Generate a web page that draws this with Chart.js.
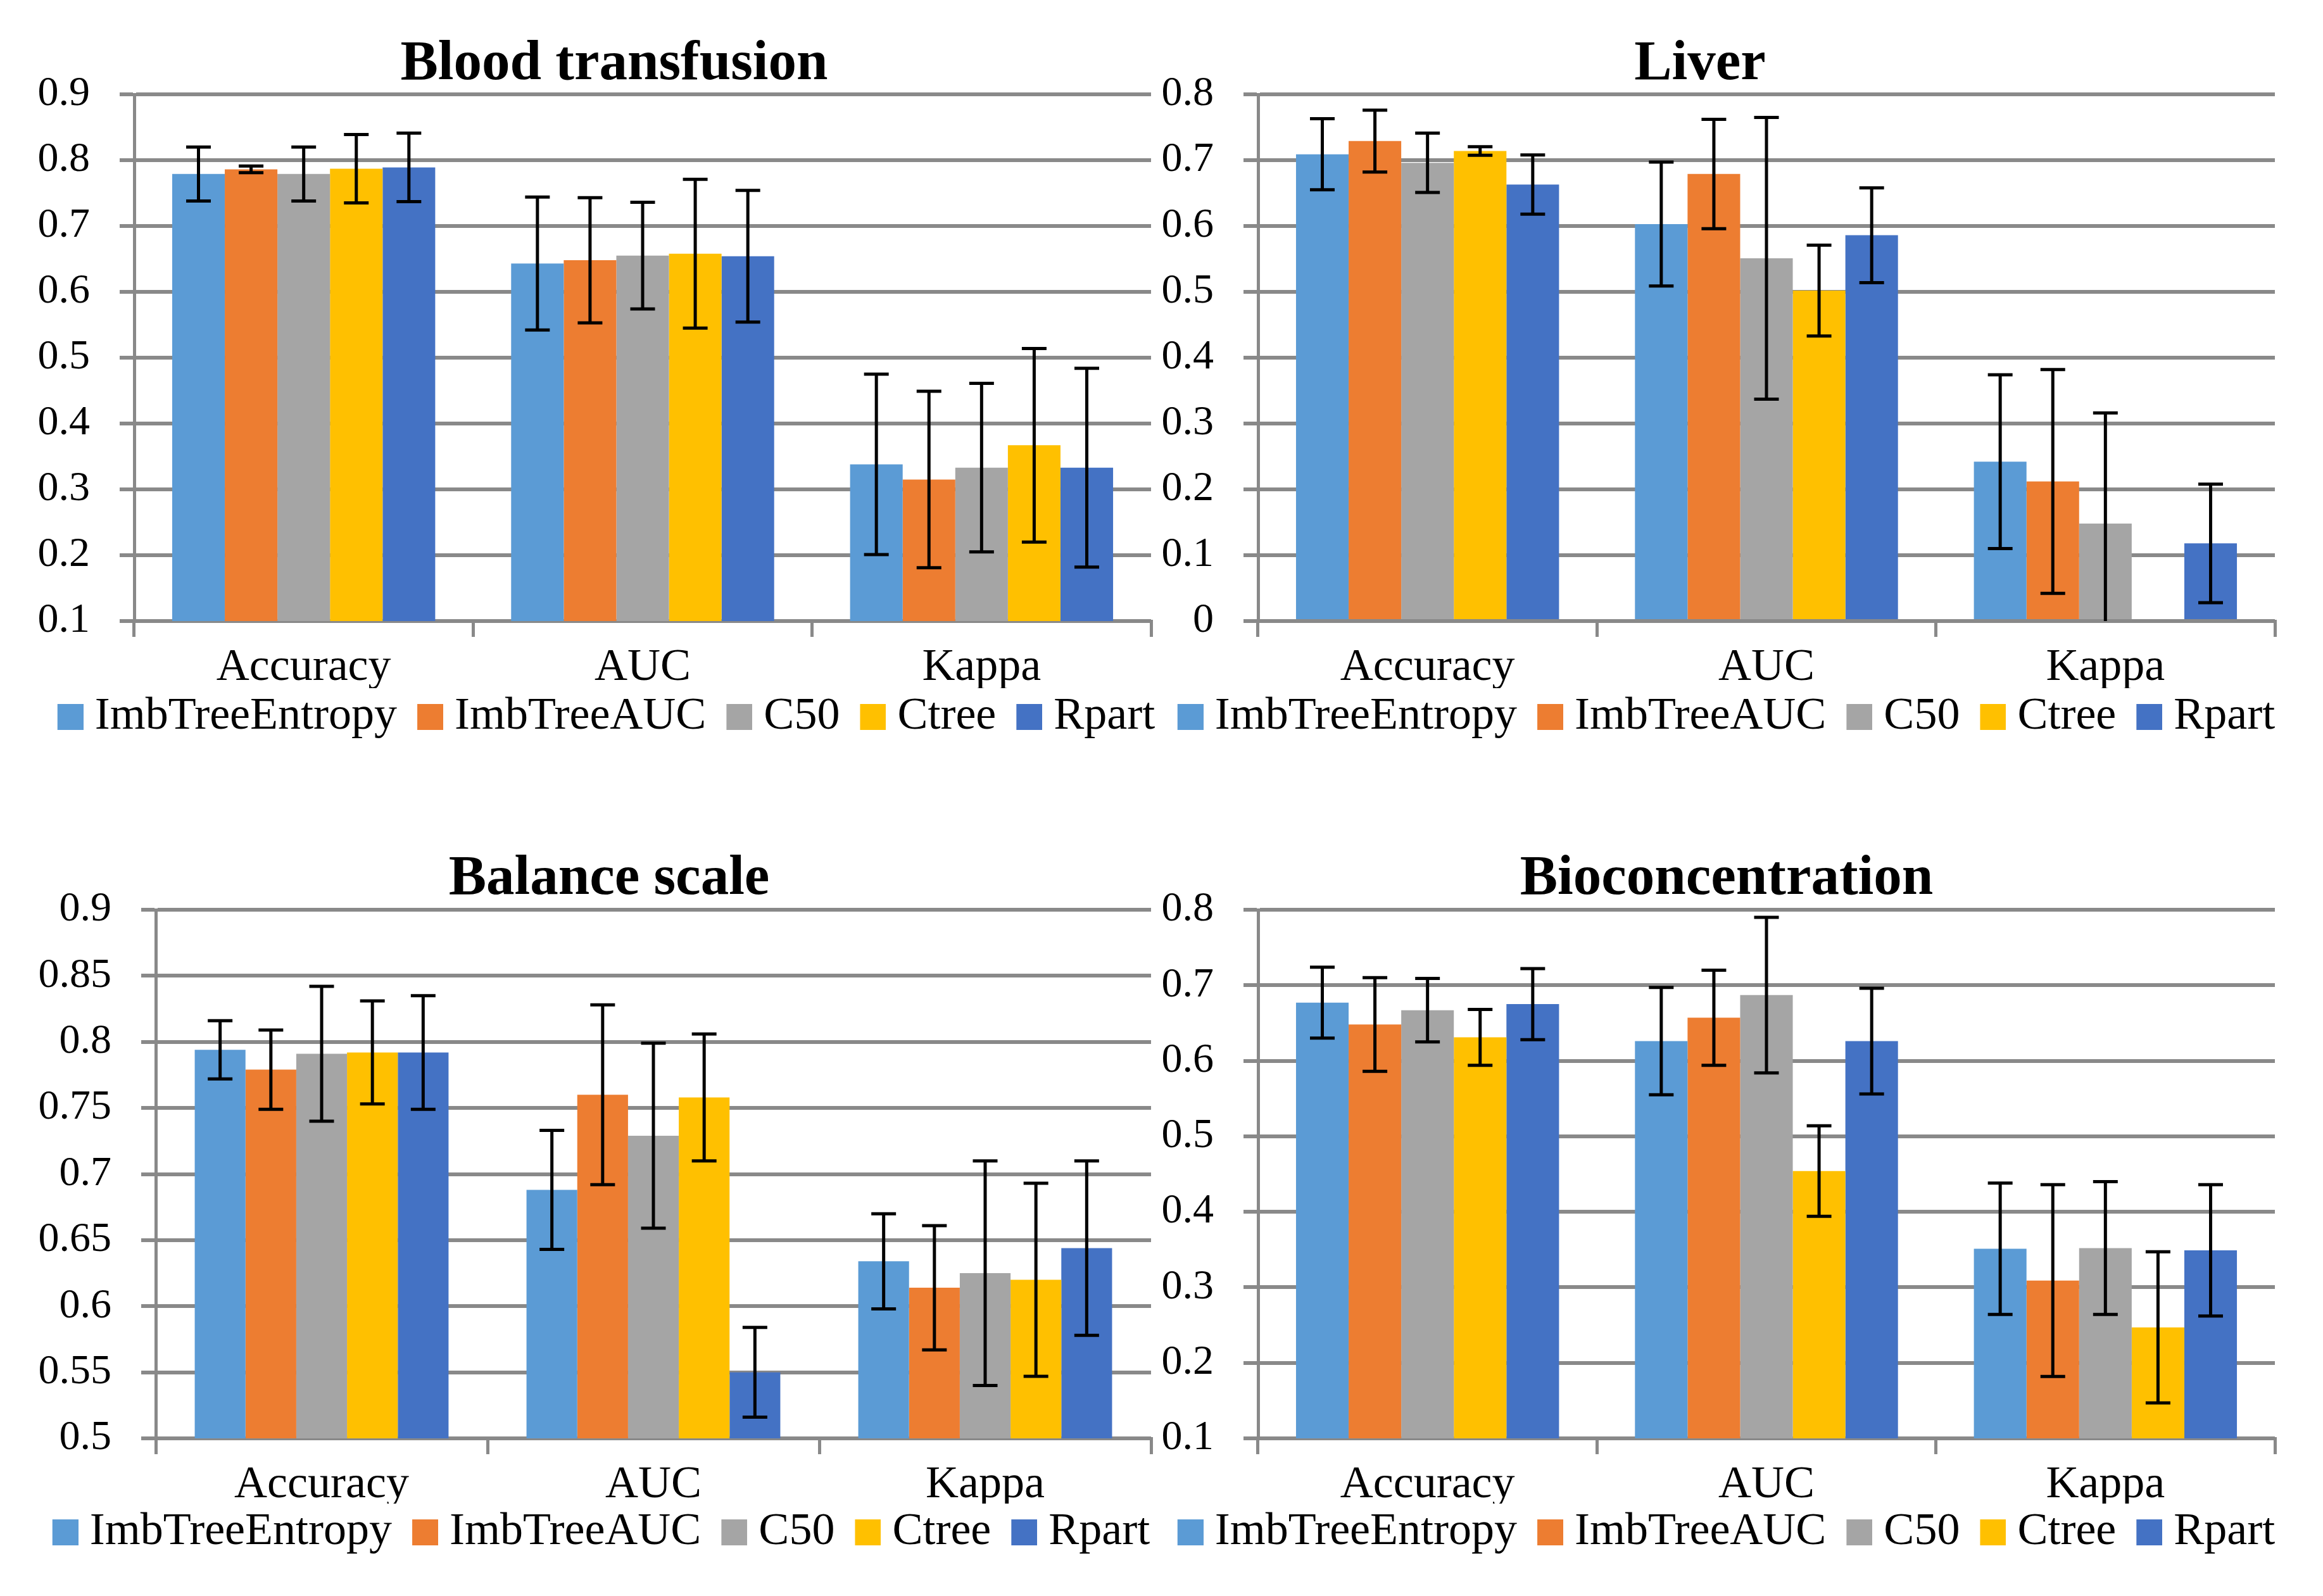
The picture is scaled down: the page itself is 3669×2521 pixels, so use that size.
<!DOCTYPE html>
<html>
<head>
<meta charset="utf-8">
<script src="https://cdn.jsdelivr.net/npm/chart.js@4.4.1/dist/chart.umd.min.js"></script>
<style>
html,body{margin:0;padding:0;background:#fff;width:3669px;height:2521px;overflow:hidden}
canvas{position:absolute;display:block}
</style>
</head>
<body>
<canvas id="c1"></canvas>
<canvas id="c2"></canvas>
<canvas id="c3"></canvas>
<canvas id="c4"></canvas>
<script>
// ---------- data ----------
const categories = ['Accuracy', 'AUC', 'Kappa'];
const seriesNames = ['ImbTreeEntropy', 'ImbTreeAUC', 'C50', 'Ctree', 'Rpart'];
const seriesColors = ['#5B9BD5', '#ED7D31', '#A5A5A5', '#FFC000', '#4472C4'];

// rows = series (ImbTreeEntropy, ImbTreeAUC, C50, Ctree, Rpart); columns = categories
const bloodMeans = [
  [0.779, 0.643, 0.338],
  [0.786, 0.648, 0.315],
  [0.779, 0.655, 0.333],
  [0.787, 0.658, 0.367],
  [0.789, 0.654, 0.333]
];
const bloodErrors = [
  [0.041, 0.101, 0.137],
  [0.005, 0.095, 0.134],
  [0.041, 0.081, 0.128],
  [0.052, 0.113, 0.147],
  [0.052, 0.100, 0.151]
];

const liverMeans = [
  [0.709, 0.603, 0.242],
  [0.729, 0.679, 0.212],
  [0.696, 0.551, 0.148],
  [0.714, 0.502, 0.000],
  [0.663, 0.586, 0.118]
];
const liverErrors = [
  [0.054, 0.094, 0.132],
  [0.047, 0.083, 0.170],
  [0.045, 0.214, 0.168],
  [0.0065, 0.069, null],
  [0.045, 0.072, 0.090]
];

const balanceMeans = [
  [0.794, 0.688, 0.634],
  [0.779, 0.760, 0.614],
  [0.791, 0.729, 0.625],
  [0.792, 0.758, 0.620],
  [0.792, 0.550, 0.644]
];
const balanceErrors = [
  [0.022, 0.045, 0.036],
  [0.030, 0.068, 0.047],
  [0.051, 0.070, 0.085],
  [0.039, 0.048, 0.073],
  [0.043, 0.034, 0.066]
];

const bioMeans = [
  [0.677, 0.626, 0.351],
  [0.648, 0.657, 0.309],
  [0.667, 0.687, 0.352],
  [0.631, 0.454, 0.247],
  [0.675, 0.626, 0.349]
];
const bioErrors = [
  [0.047, 0.071, 0.087],
  [0.062, 0.063, 0.127],
  [0.042, 0.103, 0.088],
  [0.037, 0.060, 0.100],
  [0.047, 0.070, 0.087]
];

const bloodTicks = [0.1, 0.2, 0.3, 0.4, 0.5, 0.6, 0.7, 0.8, 0.9];
const bloodTickLabels = ['0.1', '0.2', '0.3', '0.4', '0.5', '0.6', '0.7', '0.8', '0.9'];
const liverTicks = [0, 0.1, 0.2, 0.3, 0.4, 0.5, 0.6, 0.7, 0.8];
const liverTickLabels = ['0', '0.1', '0.2', '0.3', '0.4', '0.5', '0.6', '0.7', '0.8'];
const balanceTicks = [0.5, 0.55, 0.6, 0.65, 0.7, 0.75, 0.8, 0.85, 0.9];
const balanceTickLabels = ['0.5', '0.55', '0.6', '0.65', '0.7', '0.75', '0.8', '0.85', '0.9'];
const bioTicks = [0.1, 0.2, 0.3, 0.4, 0.5, 0.6, 0.7, 0.8];
const bioTickLabels = ['0.1', '0.2', '0.3', '0.4', '0.5', '0.6', '0.7', '0.8'];

const panelTitles = ['Blood transfusion', 'Liver', 'Balance scale', 'Bioconcentration'];

// ---------- style ----------
const GRID = '#898989';
const FONT = "'Liberation Serif'";
Chart.defaults.font.family = FONT;
Chart.defaults.color = '#000';

// legend swatch image (82x41): a 41x41 square on its right half.
// Drawn centred on the 46px symbol slot, so the square ends 18px before the label
// and a 23px blank leads each item.
function makeSwatch(color) {
  const c = document.createElement('canvas');
  c.width = 82; c.height = 41;
  const g = c.getContext('2d');
  g.fillStyle = color;
  g.fillRect(41, 0, 41, 41);
  return c;
}
const swatches = seriesColors.map(makeSwatch);

const errorBarPlugin = {
  id: 'errorBars',
  afterDatasetsDraw(chart) {
    const ctx = chart.ctx;
    const area = chart.chartArea;
    const yScale = chart.scales.y;
    ctx.save();
    ctx.beginPath();
    ctx.rect(area.left, area.top - 40, area.right - area.left, area.bottom - area.top + 40);
    ctx.clip();
    ctx.strokeStyle = '#000';
    ctx.lineWidth = 5;
    ctx.lineCap = 'butt';
    const half = 19.5;
    chart.data.datasets.forEach((ds, i) => {
      const meta = chart.getDatasetMeta(i);
      meta.data.forEach((el, j) => {
        const v = ds.data[j];
        const e = ds.errors ? ds.errors[j] : null;
        if (v == null || e == null) return;
        const x = el.x;
        const yT = yScale.getPixelForValue(v + e);
        const yB = yScale.getPixelForValue(v - e);
        ctx.beginPath();
        ctx.moveTo(x, yT); ctx.lineTo(x, yB);
        ctx.moveTo(x - half, yT); ctx.lineTo(x + half, yT);
        ctx.moveTo(x - half, yB); ctx.lineTo(x + half, yB);
        ctx.stroke();
      });
    });
    ctx.restore();
  }
};

const titlePlugin = {
  id: 'panelTitle',
  afterDraw(chart, args, opts) {
    const ctx = chart.ctx;
    ctx.save();
    ctx.font = "bold 89px " + FONT;
    ctx.fillStyle = '#000';
    ctx.textAlign = 'center';
    ctx.textBaseline = 'alphabetic';
    ctx.fillText(opts.text, opts.x, opts.y);
    ctx.restore();
  }
};

function makeChart(id, title, means, errors, ticks, tickLabels, L) {
  const cv = document.getElementById(id);
  cv.width = L.width; cv.height = L.height;
  cv.style.left = L.left + 'px'; cv.style.top = L.top + 'px';
  cv.style.width = L.width + 'px'; cv.style.height = L.height + 'px';
  const datasets = seriesNames.map((name, i) => ({
    label: name,
    data: means[i],
    errors: errors[i],
    backgroundColor: seriesColors[i],
    borderWidth: 0,
    pointStyle: swatches[i],
    categoryPercentage: L.catPct,
    barPercentage: 1.0,
    yAxisID: 'y'
  }));
  return new Chart(cv, {
    type: 'bar',
    data: { labels: categories, datasets },
    plugins: [errorBarPlugin, titlePlugin],
    options: {
      responsive: false,
      animation: false,
      devicePixelRatio: 1,
      layout: { padding: { top: L.padTop, right: 0, bottom: L.padBottom, left: 0 } },
      plugins: {
        title: { display: false },
        tooltip: { enabled: false },
        panelTitle: { text: title, x: L.titleX, y: L.titleY },
        legend: {
          display: true,
          position: 'bottom',
          align: 'center',
          labels: {
            usePointStyle: true,
            boxWidth: 46, boxHeight: 41, padding: 9,
            font: { size: 72, family: FONT }, color: '#000'
          }
        }
      },
      scales: {
        x: {
          grid: { display: true, drawOnChartArea: false, drawTicks: true, tickLength: 25,
                  color: GRID, lineWidth: 5, offset: true },
          border: { display: true, color: GRID, width: 5 },
          ticks: { font: { size: 72, family: FONT }, color: '#000', padding: 6, maxRotation: 0, autoSkip: false },
          afterFit: (s) => { s.height = L.xHeight; }
        },
        y: {
          position: 'left',
          min: ticks[0], max: ticks[ticks.length - 1],
          afterBuildTicks: (s) => { s.ticks = ticks.map(v => ({ value: v })); },
          grid: { display: true, drawTicks: true, tickLength: 23, color: GRID, lineWidth: 6 },
          border: { display: true, color: GRID, width: 5 },
          ticks: {
            font: { size: 66, family: FONT }, color: '#000', padding: 47,
            callback: (v, i) => tickLabels[i]
          },
          afterFit: (s) => { s.width = L.yWidth; }
        },
        // empty spacer on the right (no marks), reserves the white margin right of the plot
        spacer: {
          type: 'linear',
          position: 'right',
          display: true,
          grid: { display: false, drawTicks: false },
          border: { display: false },
          ticks: { display: false },
          afterFit: (s) => { s.width = L.rightGap; }
        }
      }
    }
  });
}

makeChart('c1', panelTitles[0], bloodMeans, bloodErrors, bloodTicks, bloodTickLabels,
  { left: 0, top: 0, width: 1892, height: 1200, padTop: 149, padBottom: 22,
    yWidth: 212, rightGap: 74, xHeight: 106, titleX: 970, titleY: 125, catPct: 0.776 });
makeChart('c2', panelTitles[1], liverMeans, liverErrors, liverTicks, liverTickLabels,
  { left: 1787, top: 0, width: 1856, height: 1200, padTop: 149, padBottom: 22,
    yWidth: 200, rightGap: 50, xHeight: 106, titleX: 898, titleY: 125, catPct: 0.776 });
makeChart('c3', panelTitles[2], balanceMeans, balanceErrors, balanceTicks, balanceTickLabels,
  { left: 0, top: 1290, width: 1876, height: 1231, padTop: 147, padBottom: 55,
    yWidth: 246, rightGap: 58, xHeight: 103, titleX: 962, titleY: 122, catPct: 0.765 });
makeChart('c4', panelTitles[3], bioMeans, bioErrors, bioTicks, bioTickLabels,
  { left: 1787, top: 1290, width: 1856, height: 1231, padTop: 147, padBottom: 55,
    yWidth: 200, rightGap: 50, xHeight: 103, titleX: 940, titleY: 122, catPct: 0.776 });
</script>
</body>
</html>
